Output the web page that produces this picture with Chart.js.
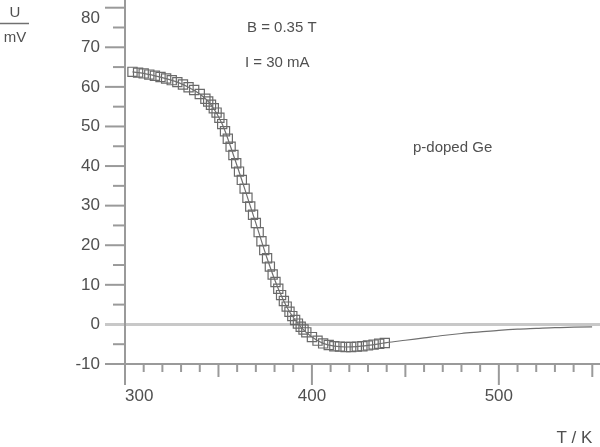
<!DOCTYPE html>
<html><head><meta charset="utf-8">
<script src="https://cdn.jsdelivr.net/npm/chart.js@4/dist/chart.umd.min.js"></script>
<style>html,body{margin:0;padding:0;background:#fff;overflow:hidden}</style>
</head><body>
<canvas id="c" width="600" height="447"></canvas>
<script>
// Measured Hall voltage of p-doped Ge (B = 0.35 T, I = 30 mA)
const temperatures = [304,307,310,313,316,319,322,325,328,331,334,337,340,343,344.5,346,347.5,349,350.5,352,353.5,355,356.5,358,359.5,361,362.5,364,365.5,367,368.5,370,371.5,373,374.5,376,377.5,379,380.5,382,383.5,385,386.5,388,389.5,391,392.5,394,395.5,397,400,403,406,409,412,415,418,421,424,427,430,433,436,439];
const voltages = [63.8,63.6,63.4,63.1,62.8,62.5,62.1,61.7,61.2,60.6,59.9,59.2,58.2,57.0,56.3,55.5,54.6,53.5,52.2,50.6,48.8,46.9,44.9,42.8,40.7,38.6,36.5,34.3,32.0,29.8,27.7,25.6,23.3,21.0,18.8,16.7,14.6,12.6,10.7,9.0,7.4,5.9,4.5,3.2,2.1,1.1,0.2,-0.6,-1.3,-2.0,-3.2,-4.1,-4.8,-5.2,-5.5,-5.6,-5.7,-5.7,-5.6,-5.5,-5.3,-5.1,-4.9,-4.7];
// Fitted curve
const fitTemperatures = [304,310,316,322,328,334,340,346,352,358,364,370,376,382,388,394,400,406,412,418,424,430,436,440,450,460,470,480,490,500,510,520,530,540,550];
const fitVoltages = [63.8,63.4,62.8,62.1,61.2,59.9,58.2,55.5,50.6,42.8,34.3,25.6,16.7,9.0,3.2,-0.6,-3.2,-4.8,-5.5,-5.7,-5.6,-5.3,-4.9,-4.6,-4.0,-3.4,-2.8,-2.3,-1.9,-1.5,-1.2,-1.0,-0.8,-0.7,-0.6];
const xTickLabels = [300, 400, 500];
const yTickLabels = [-10, 0, 10, 20, 30, 40, 50, 60, 70, 80];
const annotations = [
  {text: 'B = 0.35 T', x: 247, y: 28},
  {text: 'I = 30 mA', x: 245, y: 63},
  {text: 'p-doped Ge', x: 413, y: 148}
];

const FONT = '"Liberation Sans", Arial, sans-serif';
const TXT = '#505050';

const axesPlugin = {
  id: 'axesPlugin',
  beforeDatasetsDraw(chart) {
    const ctx = chart.ctx, xs = chart.scales.x, ys = chart.scales.y;
    const xl = xs.getPixelForValue(xs.min), yb = ys.getPixelForValue(ys.min);
    const y0 = ys.getPixelForValue(0);
    const seg = (a, b, c, d) => { ctx.beginPath(); ctx.moveTo(a, b); ctx.lineTo(c, d); ctx.stroke(); };
    ctx.save();
    ctx.lineCap = 'butt';
    ctx.strokeStyle = '#c8c8c8'; ctx.lineWidth = 3;
    seg(xl - 20, y0, chart.width, y0);
    ctx.strokeStyle = '#9a9a9a'; ctx.lineWidth = 2;
    seg(xl, 0, xl, yb + 21);
    seg(xl - 20, yb, chart.width, yb);
    ys.ticks.forEach(t => {
      if (t.value === 0 || t.value === ys.min) return;
      const p = ys.getPixelForValue(t.value);
      const len = t.value % 10 === 0 ? 20 : 12;
      seg(xl - len, p, xl, p);
    });
    xs.ticks.forEach(t => {
      const p = xs.getPixelForValue(t.value);
      const len = t.value % 100 === 0 ? 21 : (t.value % 50 === 0 ? 13 : 8);
      seg(p, yb, p, yb + len);
    });
    ctx.restore();
  },
  afterDraw(chart) {
    const ctx = chart.ctx;
    ctx.save();
    ctx.fillStyle = TXT;
    ctx.textBaseline = 'middle';
    ctx.font = '15px ' + FONT;
    annotations.forEach(a => { ctx.textAlign = 'left'; ctx.fillText(a.text, a.x, a.y); });
    ctx.textAlign = 'center';
    ctx.fillText('U', 15, 13);
    ctx.fillText('mV', 15, 38);
    ctx.strokeStyle = '#707070'; ctx.lineWidth = 1.5;
    ctx.beginPath(); ctx.moveTo(0, 23.5); ctx.lineTo(29, 23.5); ctx.stroke();
    ctx.restore();
  }
};

new Chart(document.getElementById('c'), {
  type: 'scatter',
  data: {
    datasets: [
      {
        label: 'fit',
        data: fitTemperatures.map((t, i) => ({x: t, y: fitVoltages[i]})),
        showLine: true,
        borderColor: '#707070',
        borderWidth: 1.2,
        pointRadius: 0,
        cubicInterpolationMode: 'monotone',
        fill: false
      },
      {
        label: 'U',
        data: temperatures.map((t, i) => ({x: t, y: voltages[i]})),
        showLine: false,
        pointStyle: 'rect',
        pointRadius: 6.5,
        borderColor: '#6a6a6a',
        borderWidth: 1.2,
        backgroundColor: 'rgba(0,0,0,0)'
      }
    ]
  },
  options: {
    responsive: false,
    animation: false,
    devicePixelRatio: 1,
    layout: {padding: {top: 1, right: 2, left: 0, bottom: 0}},
    plugins: {legend: {display: false}, tooltip: {enabled: false}},
    scales: {
      x: {
        type: 'linear', min: 300, max: 550,
        grid: {display: false, drawTicks: false},
        border: {display: false},
        ticks: {
          stepSize: 10, autoSkip: false, maxRotation: 0, padding: 22,
          color: TXT, font: {family: FONT, size: 17},
          callback: v => xTickLabels.includes(v) ? (v === 300 ? '      300' : String(v)) : ''
        },
        title: {display: true, text: 'T / K', align: 'end', color: TXT, font: {family: FONT, size: 17}, padding: {top: 0, bottom: -2}},
        afterFit: s => { s.height = 83; s.paddingLeft = 0; s.paddingRight = 0; }
      },
      y: {
        type: 'linear', min: -10, max: 80,
        grid: {display: false, drawTicks: false},
        border: {display: false},
        ticks: {
          stepSize: 5, autoSkip: false, padding: 25,
          color: TXT, font: {family: FONT, size: 17},
          callback: v => yTickLabels.includes(v) ? (v === 80 ? ['', '80'] : String(v)) : ''
        },
        afterFit: s => { s.width = 125; s.paddingTop = 0; s.paddingBottom = 0; }
      }
    }
  },
  plugins: [axesPlugin]
});
</script>
</body></html>
